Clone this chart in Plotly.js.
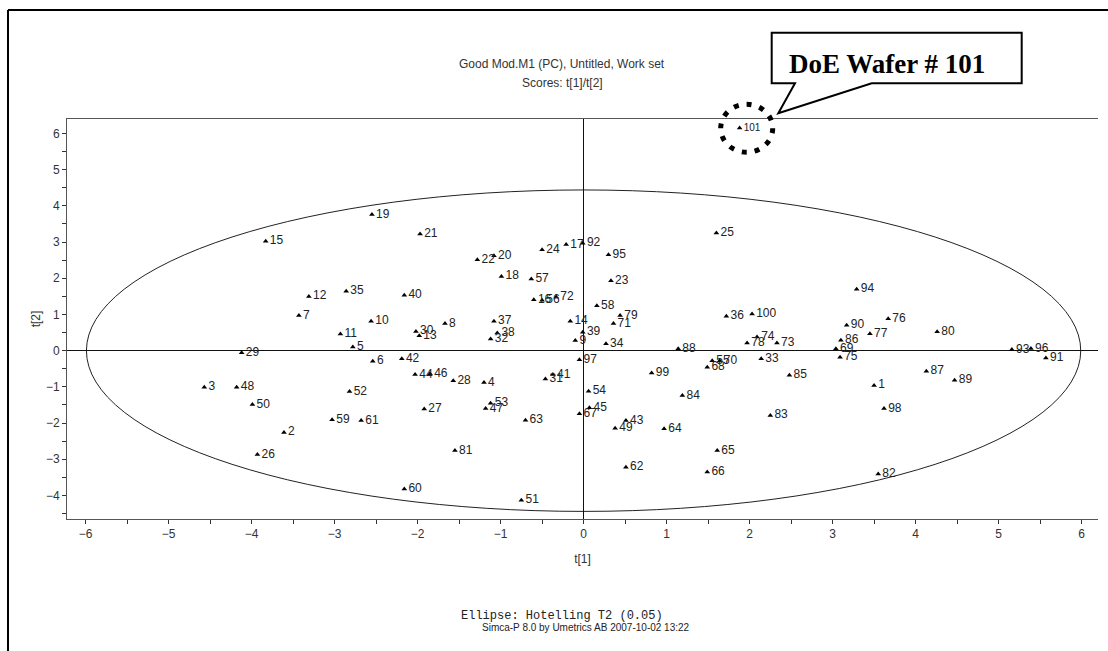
<!DOCTYPE html>
<html>
<head>
<meta charset="utf-8">
<script src="https://cdn.plot.ly/plotly-3.0.1.min.js"></script>
<style>html,body{margin:0;padding:0;background:#fff;}#chart{width:1108px;height:651px;}</style>
</head>
<body>
<div id="chart"></div>
<script>
// Observation ids (wafer numbers)
const obsIds = [1,2,3,4,5,6,7,8,9,10,11,12,13,14,15,16,17,18,19,20,21,22,23,24,25,26,27,28,29,30,31,32,33,34,35,36,37,38,39,40,41,42,43,44,45,46,47,48,49,50,51,52,53,54,55,56,57,58,59,60,61,62,63,64,65,66,67,68,69,70,71,72,73,74,75,76,77,78,79,80,81,82,83,84,85,86,87,88,89,90,91,92,93,94,95,96,97,98,99,100,101];
// Scores t[1]
const t1 = [3.50,-3.61,-4.57,-1.20,-2.78,-2.54,-3.43,-1.67,-0.10,-2.56,-2.93,-3.31,-1.98,-0.16,-3.83,-0.60,-0.21,-0.99,-2.55,-1.08,-1.97,-1.28,0.33,-0.50,1.60,-3.93,-1.92,-1.57,-4.12,-2.02,-0.46,-1.12,2.14,0.27,-2.86,1.72,-1.08,-1.04,-0.01,-2.16,-0.37,-2.19,0.51,-2.03,0.07,-1.85,-1.18,-4.18,0.38,-3.99,-0.75,-2.82,-1.12,0.06,1.55,-0.50,-0.63,0.16,-3.03,-2.16,-2.68,0.51,-0.70,0.97,1.61,1.49,-0.05,1.49,3.04,1.64,0.36,-0.33,2.33,2.09,3.09,3.67,3.45,1.97,0.44,4.26,-1.55,3.55,2.25,1.19,2.48,3.10,4.13,1.14,4.47,3.17,5.57,-0.01,5.16,3.29,0.30,5.39,-0.05,3.62,0.82,2.03,1.88];
// Scores t[2]
const t2 = [-0.96,-2.26,-1.01,-0.88,0.10,-0.29,0.97,0.75,0.28,0.81,0.46,1.50,0.41,0.81,3.02,1.41,2.93,2.05,3.76,2.62,3.22,2.51,1.93,2.79,3.25,-2.87,-1.61,-0.83,-0.06,0.53,-0.78,0.32,-0.22,0.19,1.64,0.95,0.81,0.49,0.51,1.53,-0.66,-0.22,-1.93,-0.66,-1.58,-0.64,-1.60,-1.01,-2.14,-1.49,-4.13,-1.13,-1.45,-1.12,-0.28,1.39,1.98,1.24,-1.91,-3.82,-1.93,-3.22,-1.92,-2.16,-2.76,-3.35,-1.74,-0.46,0.05,-0.28,0.75,1.48,0.21,0.38,-0.18,0.88,0.47,0.21,0.97,0.52,-2.76,-3.41,-1.79,-1.24,-0.68,0.29,-0.57,0.05,-0.82,0.70,-0.20,2.97,0.03,1.70,2.65,0.06,-0.25,-1.60,-0.62,1.01,6.15];
// Hotelling T2 (0.05) ellipse semi-axes [t1, t2]
const ellipseAxes = [5.99, 4.44];
const highlightId = 101;
const xTickVals = [-6,-5,-4,-3,-2,-1,0,1,2,3,4,5,6];
const yTickVals = [-4,-3,-2,-1,0,1,2,3,4,5,6];
const titleLines = ['Good Mod.M1 (PC), Untitled, Work set', 'Scores: t[1]/t[2]'];

// page geometry (pixels)
const W = 1108, H = 651;
const M = {l: 67, r: 10, t: 119, b: 132};
const pw = W - M.l - M.r, ph = H - M.t - M.b;
const px = v => (v - M.l) / pw;          // pixel x -> paper
const py = v => (H - M.b - v) / ph;       // pixel y -> paper

const labelSizes = obsIds.map(id => id === highlightId ? 10 : 12);

const trace = {
  type: 'scatter',
  mode: 'markers+text',
  x: t1,
  y: t2,
  text: obsIds.map(String),
  textposition: 'middle right',
  textfont: {family: 'Liberation Sans, Arial, sans-serif', size: labelSizes, color: '#222'},
  marker: {symbol: 'triangle-up', size: 5, color: '#000'},
  cliponaxis: false,
  hoverinfo: 'x+y+text'
};

function pathStr() {
  const pts = [[771.7,32.7],[1021.7,32.7],[1021.7,83.3],[871.7,83.3],[778.3,113.3],[795,83.3],[771.7,83.3]];
  return pts.map((p, i) => (i ? 'L' : 'M') + px(p[0]).toFixed(5) + ',' + py(p[1]).toFixed(5)).join(' ') + ' Z';
}

const layout = {
  width: W, height: H,
  margin: M,
  paper_bgcolor: '#fff',
  plot_bgcolor: '#fff',
  showlegend: false,
  font: {family: 'Liberation Sans, Arial, sans-serif', size: 12, color: '#333'},
  xaxis: {
    range: [-6.224, 6.198],
    tickmode: 'array', tickvals: xTickVals,
    ticks: 'outside', ticklen: 4, tickcolor: '#333',
    minor: {dtick: 0.5, ticks: 'outside', ticklen: 4, tickcolor: '#333', showgrid: false},
    showgrid: false,
    showline: true, linecolor: '#555', linewidth: 1, mirror: true,
    zeroline: true, zerolinecolor: '#111', zerolinewidth: 1,
    tickfont: {size: 12, color: '#333'},
    title: {text: 't[1]', font: {size: 12, color: '#333'}, standoff: 14}
  },
  yaxis: {
    range: [-4.65, 6.40],
    tickmode: 'array', tickvals: yTickVals,
    ticks: 'outside', ticklen: 4, tickcolor: '#333',
    minor: {dtick: 0.5, ticks: 'outside', ticklen: 4, tickcolor: '#333', showgrid: false},
    showgrid: false,
    showline: true, linecolor: '#555', linewidth: 1, mirror: false,
    zeroline: true, zerolinecolor: '#111', zerolinewidth: 1,
    tickfont: {size: 12, color: '#333'},
    title: {text: 't[2]', font: {size: 12, color: '#333'}, standoff: 2}
  },
  shapes: [
    // Hotelling T2 ellipse
    {type: 'circle', xref: 'x', yref: 'y',
     x0: -ellipseAxes[0], x1: ellipseAxes[0], y0: -ellipseAxes[1], y1: ellipseAxes[1],
     line: {color: '#222', width: 1}, layer: 'below'},
    // dotted circle around wafer 101 (paper ref so it is not clipped)
    {type: 'circle', xref: 'paper', yref: 'paper',
     xsizemode: 'pixel', ysizemode: 'pixel',
     xanchor: px(746.7), yanchor: py(128.3),
     x0: -26, x1: 26, y0: -24, y1: 24,
     line: {color: '#000', width: 5, dash: '5px,8px'}},
    // callout box with pointer
    {type: 'path', xref: 'paper', yref: 'paper', path: pathStr(),
     fillcolor: '#fff', line: {color: '#000', width: 2}},
    // page frame (top & left)
    {type: 'line', xref: 'paper', yref: 'paper', x0: px(8), x1: px(1108), y0: py(10), y1: py(10),
     line: {color: '#000', width: 2}},
    {type: 'line', xref: 'paper', yref: 'paper', x0: px(8), x1: px(8), y0: py(10), y1: py(651),
     line: {color: '#000', width: 2}}
  ],
  annotations: [
    {text: titleLines[0], xref: 'paper', yref: 'paper',
     x: px(562), y: py(64), xanchor: 'center', yanchor: 'middle', showarrow: false,
     font: {size: 12, color: '#333'}},
    {text: titleLines[1], xref: 'paper', yref: 'paper',
     x: px(562), y: py(83), xanchor: 'center', yanchor: 'middle', showarrow: false,
     font: {size: 12, color: '#333'}},
    {text: '<b>DoE Wafer # 101</b>', xref: 'paper', yref: 'paper',
     x: px(887), y: py(64), xanchor: 'center', yanchor: 'middle', showarrow: false,
     font: {family: 'Liberation Serif, Times New Roman, serif', size: 27, color: '#000'}},
    {text: 'Ellipse: Hotelling T2 (0.05)', xref: 'paper', yref: 'paper',
     x: px(561.7), y: py(616), xanchor: 'center', yanchor: 'middle', showarrow: false,
     font: {family: 'Liberation Mono, Courier New, monospace', size: 12, color: '#222'}},
    {text: 'Simca-P 8.0 by Umetrics AB 2007-10-02 13:22', xref: 'paper', yref: 'paper',
     x: px(586), y: py(627.3), xanchor: 'center', yanchor: 'middle', showarrow: false,
     font: {family: 'Liberation Sans Narrow, Liberation Sans, Arial, sans-serif', size: 10, color: '#222'}}
  ]
};

Plotly.newPlot('chart', [trace], layout, {displayModeBar: false, staticPlot: true});
</script>
</body>
</html>
